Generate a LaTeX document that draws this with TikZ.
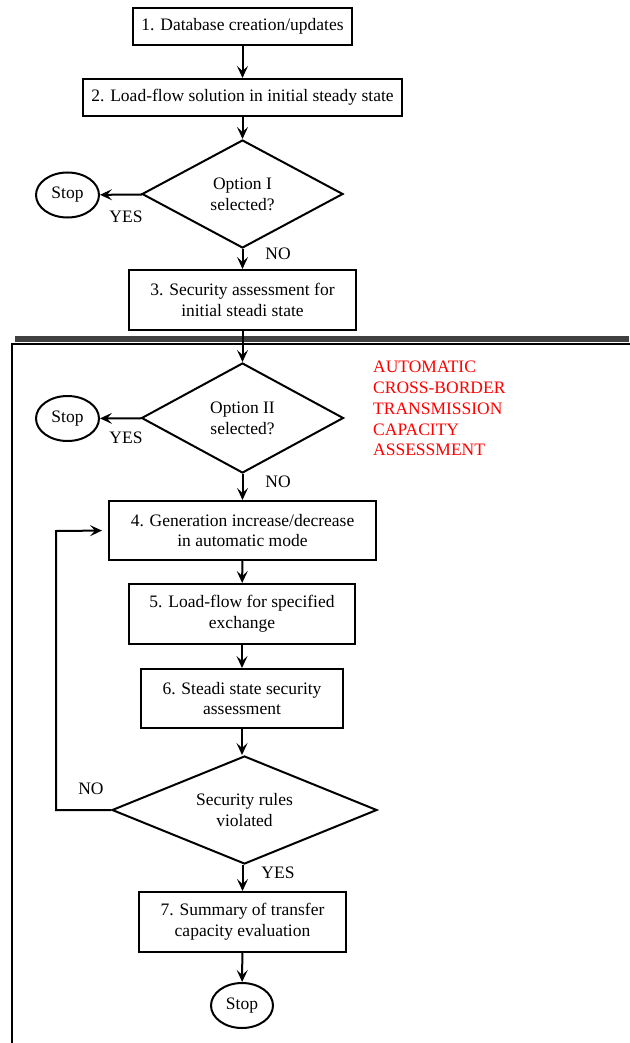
\documentclass[tikz,border=0pt]{standalone}
\usepackage{fontspec}
\setmainfont{Liberation Serif}
\newfontfamily\tnr{Liberation Serif}
\usetikzlibrary{arrows.meta,shapes.geometric}

\begin{document}
\begin{tikzpicture}[
    x=1pt, y=-1pt,
    font=\tnr\fontsize{17.5}{20.8}\selectfont,
    % Style for the process steps (plain rectangles)
    box/.style={rectangle, draw=black, line width=2pt, align=center, inner sep=0pt},
    % Style for the decisions (diamonds)
    dec/.style={diamond, draw=black, line width=2pt, align=center, inner sep=0pt, aspect=2},
    % Style for the stop terminals (ellipses)
    term/.style={ellipse, draw=black, line width=2pt, inner sep=0pt, minimum width=63pt, minimum height=45pt},
    % Style for the flow arrows
    flow/.style={-{Stealth[length=12pt, width=11pt, inset=5pt]}, line width=2pt},
    lbl/.style={inner sep=0pt}
]
\useasboundingbox (0,0) rectangle (629,1043);

% ==========================
% Manual preparation
% ==========================
\node[box, minimum width=219pt, minimum height=37pt] (db) at (242.5,26.5) {1. Database creation/updates};
\node[box, minimum width=319pt, minimum height=37pt] (lf) at (242.5,97.5) {2. Load-flow solution in initial steady state};
\node[dec, minimum width=201pt, minimum height=108pt] (opt1) at (242.5,194) {Option I\\selected?};
\node[term] (stop1) at (67.5,195) {Stop};
\node[box, minimum width=227pt, minimum height=60pt] (sa) at (242.5,300) {3. Security assessment for\\initial steadi state};

\node[lbl] (yes1) at (126,217) {YES};
\node[lbl] (no1) at (278,254) {NO};

\draw[flow] (db) -- (lf);
\draw[flow] (lf) -- (opt1);
\draw[flow] (opt1) -- (stop1);
\draw[flow] (opt1) -- (sa);

% ==========================
% Automatic part (framed)
% ==========================
% Shadow bar and frame
\fill[black!75] (15,335.5) rectangle (629,342);
\draw[line width=2pt] (632,343.5) -| (11.5,1046);

\node[lbl, text=red, align=left, anchor=north west] (auto) at (373,361)
    {AUTOMATIC\\CROSS-BORDER\\TRANSMISSION\\CAPACITY\\ASSESSMENT};

\node[dec, minimum width=202pt, minimum height=110pt] (opt2) at (242.5,418) {Option II\\selected?};
\node[term] (stop2) at (67.5,418.5) {Stop};
\node[box, minimum width=267pt, minimum height=59pt] (gen) at (242.5,530.5) {4. Generation increase/decrease\\in automatic mode};
\node[box, minimum width=226pt, minimum height=60pt] (lfx) at (242,614) {5. Load-flow for specified\\exchange};
\node[box, minimum width=202pt, minimum height=59pt] (ssa) at (242,698.5) {6. Steadi state security\\assessment};
\node[dec, minimum width=265pt, minimum height=108pt] (rules) at (244.5,810) {Security rules\\violated};
\node[box, minimum width=207pt, minimum height=60pt] (sum) at (242.5,922) {7. Summary of transfer\\capacity evaluation};
\node[term, minimum width=62pt] (stop3) at (242,1005.5) {Stop};

\node[lbl] (yes2) at (126,438) {YES};
\node[lbl] (no2) at (278,482) {NO};
\node[lbl] (no3) at (91,789) {NO};
\node[lbl] (yes3) at (278,873) {YES};

\coordinate (back) at (56,531);

\draw[flow] (sa) -- (opt2);
\draw[flow] (opt2) -- (stop2);
\draw[flow] (opt2) -- (gen);
\draw[flow] (gen) -- (lfx);
\draw[flow] (lfx) -- (ssa);
\draw[flow] (ssa.south) -- (ssa.south |- rules.north);
\draw[flow] (rules.south -| sum.north) -- (sum);
\draw[flow] (sum) -- (stop3);

% Loop back when rules are not violated
\draw[flow, shorten >=6pt] (rules.west) -| (back) -- (gen.west);

\end{tikzpicture}
\end{document}
